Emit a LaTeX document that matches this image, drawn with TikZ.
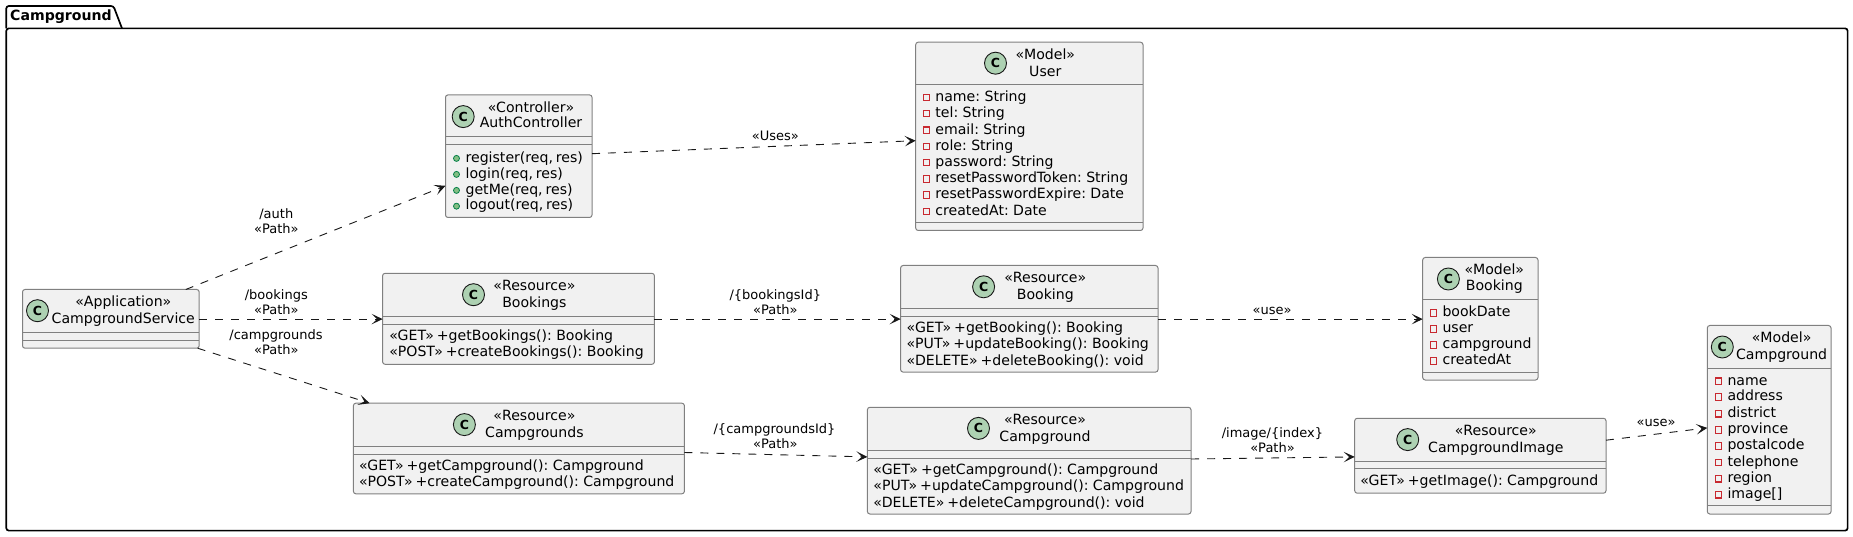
\documentclass[tikz,border=0pt]{standalone}
\usepackage{fontspec}
\setmainfont[WordSpace=0.65]{DejaVu Sans}
\usetikzlibrary{arrows.meta,calc}
\definecolor{boxfill}{HTML}{F1F1F1}
\definecolor{boxline}{HTML}{808080}
\definecolor{inkline}{HTML}{181818}
\definecolor{spotfill}{HTML}{ADD1B2}
\definecolor{privred}{HTML}{C82930}
\definecolor{pubfill}{HTML}{84BE84}
\definecolor{publine}{HTML}{038048}
\newcount\autoid
\newcommand\nextid{\global\advance\autoid by 1 }
\tikzset{
  classbox/.style={draw=boxline,fill=boxfill,line width=1pt,rounded corners=2.5pt,inner sep=0pt,outer sep=0pt},
  rulerline/.style={draw=boxline,line width=1pt},
  spot/.style={circle,draw=inkline,fill=spotfill,line width=0.9pt,minimum size=22pt,inner sep=0pt,font=\fontsize{12.5}{12.5}\selectfont\bfseries},
  boxtext/.style={inner sep=0pt,outer sep=0pt,text height=11.5pt,text depth=3.5pt,font=\fontsize{14.1}{16}\selectfont},
  linktext/.style={inner sep=0pt,outer sep=0pt,text height=10pt,text depth=3pt,font=\fontsize{13}{14}\selectfont},
  pubdot/.style={circle,draw=publine,fill=pubfill,line width=0.8pt,minimum size=6pt,inner sep=0pt},
  privbox/.style={rectangle,draw=privred,fill=boxfill,line width=1.1pt,minimum size=6.5pt,inner sep=0pt},
  link/.style={draw=inkline,line width=0.9pt,dash pattern=on 8pt off 8pt,-{Stealth[length=11pt,width=10.5pt,inset=5.5pt]}},
  pkgframe/.style={draw=black,line width=1.7pt,rounded corners=2.5pt},
}
% name, x1, y1, x2, y2
\newcommand\classnode[5]{\node[classbox,minimum width={#4-#2},minimum height={#5-#3}] (#1) at ({(#2+#4)/2},{(#3+#5)/2}) {};}
\newcommand\ruler[2]{\draw[rulerline] (#1.west |- 0,#2) -- (#1.east |- 0,#2);}
\newcommand\spotat[3]{\node[spot] (#1-spot) at (#2,#3+0.5) {C};}
\newcommand\headtext[3]{\nextid\node[boxtext] (txt\the\autoid) at (#1,#2+0.7) {#3};}
\newcommand\member[3]{\nextid\node[boxtext,anchor=west] (txt\the\autoid) at (#1,#2+0.7) {#3};}
\newcommand\pubm[4]{\nextid\node[pubdot] (dot\the\autoid) at (#1,#3+0.9) {};\member{#2}{#3}{#4}}
\newcommand\privm[4]{\nextid\node[privbox] (dot\the\autoid) at (#1,#3+0.9) {};\member{#2}{#3}{#4}}
\newcommand\linklabel[3]{\nextid\node[linktext] (lab\the\autoid) at (#1,#2+0.4) {#3};}
\begin{document}
\begin{tikzpicture}[x=1pt,y=-1pt]
\useasboundingbox (0,0) rectangle (1853,537);
% package frame
\draw[pkgframe] (6.3,28.4) -- (6.3,6) -- (113.5,6) -- (122,28.4);
\draw[pkgframe] (6.3,28.4) -- (1847.6,28.4) -- (1847.6,530.6) -- (6.3,530.6) -- cycle;
\node[inner sep=0pt,text height=11.5pt,text depth=3.5pt,font=\fontsize{14.1}{16}\selectfont\bfseries] (pkg) at (61,17) {Campground};

\begin{scope}[shift={(0,0.5)}]
% CampgroundService
\classnode{svc}{22.5}{289}{199.2}{347.7}
\ruler{svc}{331.6}\ruler{svc}{339.8}
\spotat{svc}{37.5}{309.7}
\headtext{123.3}{301.5}{«Application»}
\headtext{123.3}{318.6}{CampgroundService}

% AuthController
\classnode{auth}{445.5}{94.4}{592}{217}
\ruler{auth}{136}\ruler{auth}{144.3}
\spotat{auth}{463.2}{115.6}
\headtext{531}{107}{«Controller»}
\headtext{531}{122.7}{AuthController}
\pubm{456.5}{465.6}{157}{register(req, res)}
\pubm{456.5}{465.6}{173}{login(req, res)}
\pubm{456.5}{465.6}{189}{getMe(req, res)}
\pubm{456.5}{465.6}{204.8}{logout(req, res)}

% Bookings
\classnode{bookings}{382.6}{272.8}{654.4}{363.8}
\ruler{bookings}{316}\ruler{bookings}{323.8}
\spotat{bookings}{473.5}{293.7}
\headtext{534.4}{285.8}{«Resource»}
\headtext{534.4}{302.6}{Bookings}
\member{389.3}{335.7}{«GET» +getBookings(): Booking}
\member{389.3}{351.5}{«POST» +createBookings(): Booking}

% Campgrounds
\classnode{camps}{353.4}{402.7}{684.4}{493.3}
\ruler{camps}{445.5}\ruler{camps}{453.7}
\spotat{camps}{464.4}{423.6}
\headtext{534.4}{415.4}{«Resource»}
\headtext{534.4}{432.5}{Campgrounds}
\member{359}{465.3}{«GET» +getCampground(): Campground}
\member{359}{481.4}{«POST» +createCampground(): Campground}

% User model
\classnode{user}{915.7}{41.7}{1143}{230}
\ruler{user}{84}\ruler{user}{222}
\spotat{user}{995.5}{62.2}
\headtext{1045.3}{54}{«Model»}
\headtext{1045.3}{71}{User}
\privm{926.3}{935.4}{96}{name: String}
\privm{926.3}{935.4}{112}{tel: String}
\privm{926.3}{935.4}{128.9}{email: String}
\privm{926.3}{935.4}{145}{role: String}
\privm{926.3}{935.4}{161}{password: String}
\privm{926.3}{935.4}{177.8}{resetPasswordToken: String}
\privm{926.3}{935.4}{193.8}{resetPasswordExpire: Date}
\privm{926.3}{935.4}{210}{createdAt: Date}

% Booking resource
\classnode{bookingres}{900.6}{265}{1158}{371.6}
\ruler{bookingres}{307.7}\ruler{bookingres}{316}
\spotat{bookingres}{983.6}{285.8}
\headtext{1045.3}{277.6}{«Resource»}
\headtext{1045.3}{294.7}{Booking}
\member{906.6}{327.5}{«GET» +getBooking(): Booking}
\member{906.6}{343.6}{«PUT» +updateBooking(): Booking}
\member{906.6}{360.3}{«DELETE» +deleteBooking(): void}

% Campground resource
\classnode{campres}{867.4}{406.8}{1191}{513.5}
\ruler{campres}{449.6}\ruler{campres}{457.8}
\spotat{campres}{978.5}{427.4}
\headtext{1045}{419.5}{«Resource»}
\headtext{1045}{436.2}{Campground}
\member{873.4}{469.4}{«GET» +getCampground(): Campground}
\member{873.4}{485.5}{«PUT» +updateCampground(): Campground}
\member{873.4}{501.9}{«DELETE» +deleteCampground(): void}

% Booking model
\classnode{bookingmodel}{1422.7}{257}{1538}{379.5}
\ruler{bookingmodel}{298.8}\ruler{bookingmodel}{371.6}
\spotat{bookingmodel}{1448.4}{278}
\headtext{1494.3}{269.7}{«Model»}
\headtext{1494.3}{285.5}{Booking}
\privm{1433.4}{1442.5}{311.5}{bookDate}
\privm{1433.4}{1442.5}{327.5}{user}
\privm{1433.4}{1442.5}{343.6}{campground}
\privm{1433.4}{1442.5}{359.7}{createdAt}

% CampgroundImage
\classnode{image}{1354.7}{417.8}{1606}{492.7}
\ruler{image}{460.5}\ruler{image}{468.4}
\spotat{image}{1407.7}{438.6}
\headtext{1495.8}{430.4}{«Resource»}
\headtext{1495.8}{447.2}{CampgroundImage}
\member{1360.3}{480.3}{«GET» +getImage(): Campground}

% Campground model
\classnode{campmodel}{1707.3}{325}{1831}{513.5}
\ruler{campmodel}{367.9}\ruler{campmodel}{505.3}
\spotat{campmodel}{1722.3}{346}
\headtext{1781.6}{337.8}{«Model»}
\headtext{1781.6}{354.5}{Campground}
\privm{1718.4}{1727.5}{379.8}{name}
\privm{1718.4}{1727.5}{395.6}{address}
\privm{1718.4}{1727.5}{412.3}{district}
\privm{1718.4}{1727.5}{428.4}{province}
\privm{1718.4}{1727.5}{444.4}{postalcode}
\privm{1718.4}{1727.5}{461.2}{telephone}
\privm{1718.4}{1727.5}{477.3}{region}
\privm{1718.4}{1727.5}{493.3}{image[]}

% connectors
\draw[link] ($(svc.north east)+(-13.4,0)$) -- ($(auth.south west)+(0,-31.7)$);
\draw[link] (svc.east |- 0,318.6) -- (bookings.west |- 0,318.6);
\draw[link] ($(svc.south east)+(-1.6,0)$) -- ($(camps.north west)+(16.2,0)$);
\draw[link] ($(auth.north east)+(0,58.8)$) -- ($(user.north west)+(0,98.5)$);
\draw[link] (bookings.east |- 0,318.6) -- (bookingres.west |- 0,318.6);
\draw[link] (bookingres.east |- 0,318.6) -- (bookingmodel.west |- 0,318.6);
\draw[link] ($(camps.north east)+(0,49.3)$) -- ($(campres.north west)+(0,49.6)$);
\draw[link] ($(campres.north east)+(0,51.7)$) -- ($(image.north west)+(0,38.6)$);
\draw[link] ($(image.north east)+(0,21.9)$) -- ($(campmodel.north west)+(0,102.4)$);

% connector labels
\linklabel{276.3}{214.4}{/auth}
\linklabel{276.3}{229}{«Path»}
\linklabel{276.3}{295.4}{/bookings}
\linklabel{276.3}{310}{«Path»}
\linklabel{276}{335.4}{/campgrounds}
\linklabel{276.3}{350}{«Path»}
\linklabel{775.3}{135.7}{«Uses»}
\linklabel{775.3}{295.4}{/\{bookingsId\}}
\linklabel{775.3}{310}{«Path»}
\linklabel{774.5}{428.7}{/\{campgroundsId\}}
\linklabel{775.3}{443.8}{«Path»}
\linklabel{1272}{310.4}{«use»}
\linklabel{1272.5}{432.8}{/image/\{index\}}
\linklabel{1272.5}{447.9}{«Path»}
\linklabel{1656}{422.2}{«use»}
\end{scope}
\end{tikzpicture}
\end{document}
